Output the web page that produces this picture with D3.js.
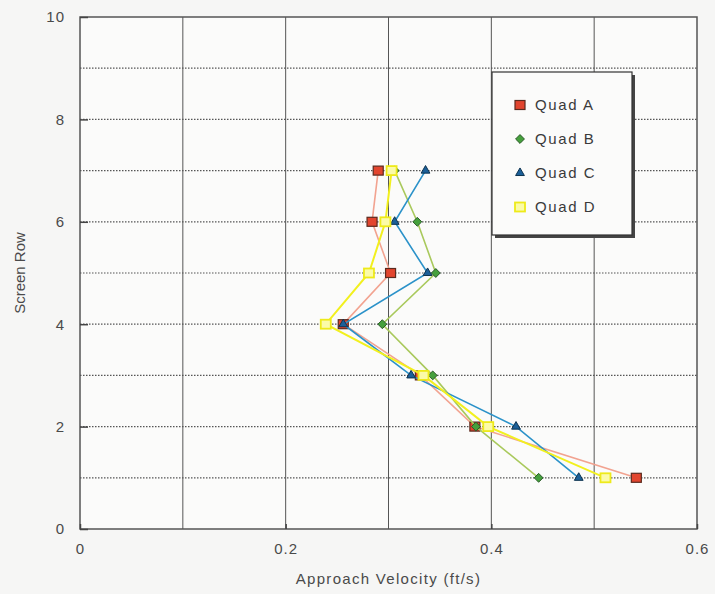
<!DOCTYPE html>
<html>
<head>
<meta charset="utf-8">
<script src="https://cdn.jsdelivr.net/npm/d3@7"></script>
<style>
  html, body { margin: 0; padding: 0; background: #f6f6f5; }
  svg { display: block; font-family: "Liberation Sans", Arial, sans-serif; }
</style>
</head>
<body>
<div id="chart"></div>
<script>
// screen rows (y) and approach velocity per quadrant (x, ft/s)
const rows = [1, 2, 3, 4, 5, 6, 7];
const quadA = [0.541, 0.384, 0.331, 0.256, 0.302, 0.284, 0.290];
const quadB = [0.446, 0.385, 0.343, 0.294, 0.346, 0.328, 0.306];
const quadC = [0.485, 0.424, 0.322, 0.256, 0.338, 0.306, 0.336];
const quadD = [0.511, 0.397, 0.334, 0.239, 0.281, 0.297, 0.303];
const seriesNames = ["Quad A", "Quad B", "Quad C", "Quad D"];
const xTicks = [0, 0.2, 0.4, 0.6];
const yTicks = [0, 2, 4, 6, 8, 10];

const width = 715, height = 594;
const margin = { top: 17, right: 18, bottom: 65, left: 80 };
const innerW = width - margin.left - margin.right;
const innerH = height - margin.top - margin.bottom;

const styles = [
    { line: "#f2a390", fill: "#e2452e", stroke: "#5b2a1e", shape: "square" },
    { line: "#a9c95c", fill: "#45a03c", stroke: "#2a5a28", shape: "diamond" },
    { line: "#2b92c9", fill: "#1b5f98", stroke: "#0d3350", shape: "triangle" },
    { line: "#f2f01e", fill: "#fbfba8", stroke: "#eeea1a", shape: "hollow" }
];
const series = [quadA, quadB, quadC, quadD].map((vals, i) => ({
    name: seriesNames[i],
    style: styles[i],
    points: rows.map((r, j) => ({ row: r, v: vals[j] }))
}));

const x = d3.scaleLinear().domain([0, 0.6]).range([0, innerW]);
const y = d3.scaleLinear().domain([0, 10]).range([innerH, 0]);

const svg = d3.select("#chart").append("svg")
    .attr("width", width)
    .attr("height", height);

const g = svg.append("g")
    .attr("transform", `translate(${margin.left},${margin.top})`);

g.append("rect")
    .attr("width", innerW).attr("height", innerH)
    .attr("fill", "#fbfbfa");

// horizontal dotted gridlines, every row
g.selectAll(".hgrid")
    .data(d3.range(1, 10))
    .join("line")
    .attr("x1", 0).attr("x2", innerW)
    .attr("y1", d => y(d)).attr("y2", d => y(d))
    .attr("stroke", "#555")
    .attr("stroke-width", 1.2)
    .attr("stroke-dasharray", "1.5,1.5");

// vertical solid gridlines every 0.1
g.selectAll(".vgrid")
    .data(d3.range(1, 6).map(d => d / 10))
    .join("line")
    .attr("x1", d => x(d)).attr("x2", d => x(d))
    .attr("y1", 0).attr("y2", innerH)
    .attr("stroke", "#555")
    .attr("stroke-width", 1);

g.append("rect")
    .attr("width", innerW).attr("height", innerH)
    .attr("fill", "none")
    .attr("stroke", "#555")
    .attr("stroke-width", 1.5);

// axes (labels only, ticks drawn inward)
const xAxis = g.append("g")
    .attr("transform", `translate(0,${innerH})`)
    .call(d3.axisBottom(x).tickValues(xTicks).tickSize(-5).tickPadding(14).tickFormat(d3.format("")));
const yAxis = g.append("g")
    .call(d3.axisLeft(y).tickValues(yTicks).tickSize(-8).tickPadding(15));
[xAxis, yAxis].forEach(a => {
    a.select(".domain").remove();
    a.selectAll(".tick line").attr("stroke", "#444").attr("stroke-width", 1.5);
    a.selectAll("text")
        .attr("fill", "#4a4a4a")
        .style("font-size", "15px")
        .style("letter-spacing", "1px");
});

svg.append("text")
    .attr("x", margin.left + innerW / 2)
    .attr("y", 584)
    .attr("text-anchor", "middle")
    .attr("fill", "#4a4a4a")
    .style("font-size", "15px")
    .style("letter-spacing", "1.3px")
    .text("Approach Velocity (ft/s)");

svg.append("text")
    .attr("transform", `translate(25,${margin.top + innerH / 2}) rotate(-90)`)
    .attr("text-anchor", "middle")
    .attr("fill", "#4a4a4a")
    .style("font-size", "15px")
    .text("Screen Row");

function drawMarker(sel, style) {
    if (style.shape === "square" || style.shape === "hollow") {
        sel.append("rect")
            .attr("x", -5).attr("y", -4.5).attr("width", 10).attr("height", 9)
            .attr("fill", style.fill).attr("stroke", style.stroke)
            .attr("stroke-width", style.shape === "hollow" ? 1.8 : 1.2);
    } else if (style.shape === "diamond") {
        sel.append("path")
            .attr("d", d3.symbol(d3.symbolDiamond2, 50)())
            .attr("fill", style.fill).attr("stroke", style.stroke).attr("stroke-width", 1);
    } else {
        sel.append("path")
            .attr("d", d3.symbol(d3.symbolTriangle2, 55)())
            .attr("fill", style.fill).attr("stroke", style.stroke).attr("stroke-width", 1);
    }
}

const line = d3.line().x(d => x(d.v)).y(d => y(d.row));

series.forEach(s => {
    const sg = g.append("g");
    sg.append("path")
        .attr("d", line(s.points))
        .attr("fill", "none")
        .attr("stroke", s.style.line)
        .attr("stroke-width", s.style.shape === "hollow" ? 2 : 1.6);
    sg.selectAll(".pt")
        .data(s.points)
        .join("g")
        .attr("transform", d => `translate(${x(d.v)},${y(d.row)})`)
        .each(function () { drawMarker(d3.select(this), s.style); });
});

// legend
const lg = svg.append("g").attr("transform", "translate(492,72)");
lg.append("rect")
    .attr("x", 3).attr("y", 3).attr("width", 140).attr("height", 163)
    .attr("fill", "#444");
lg.append("rect")
    .attr("width", 140).attr("height", 163)
    .attr("fill", "#fbfbfa")
    .attr("stroke", "#333").attr("stroke-width", 1.2);
const items = lg.selectAll(".item")
    .data(series)
    .join("g")
    .attr("transform", (d, i) => `translate(28,${33 + i * 34})`);
items.each(function (d) { drawMarker(d3.select(this), d.style); });
items.append("text")
    .attr("x", 15).attr("dy", "0.36em")
    .attr("fill", "#3a3a3a")
    .style("font-size", "15px")
    .style("letter-spacing", "1.6px")
    .text(d => d.name);
</script>
</body>
</html>
